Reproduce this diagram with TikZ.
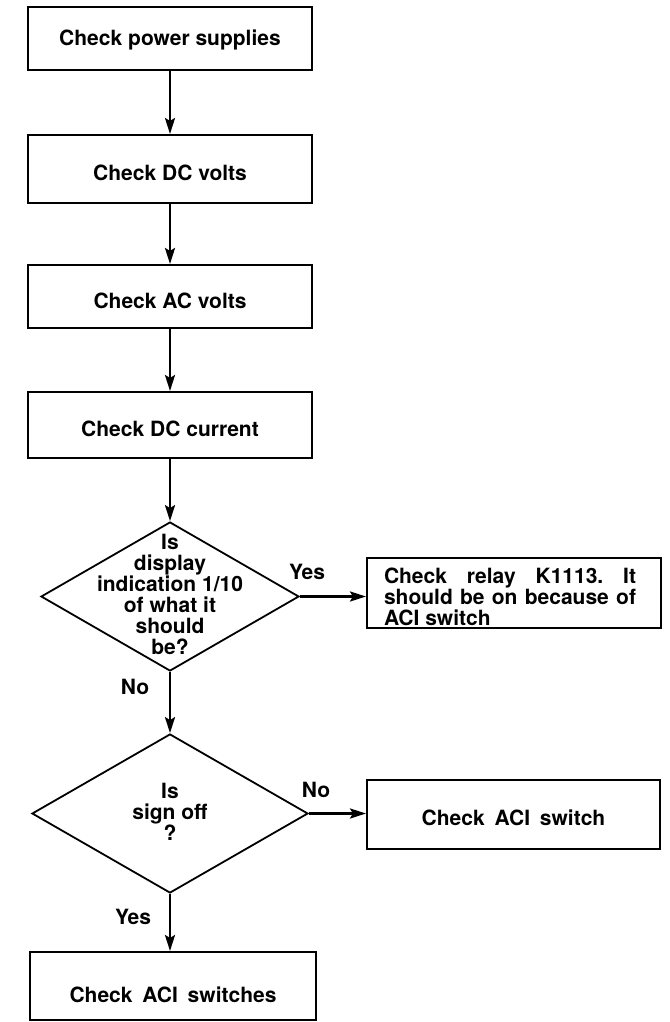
\documentclass[tikz,border=0pt]{standalone}
\usepackage{fontspec}
\setmainfont{TeX Gyre Heros}
\usetikzlibrary{shapes.geometric,arrows.meta}
\newcommand{\lowered}[2]{\raisebox{-#1}[0pt][0pt]{#2}}
\frenchspacing
\begin{document}
\begin{tikzpicture}[x=1pt,y=-1pt,
  every node/.style={font=\fontsize{21}{21}\selectfont\bfseries},
  box/.style={draw, line width=2pt, inner sep=0pt},
  dia/.style={draw, diamond, line width=1.8pt, inner sep=0pt},
  arr/.style={line width=2.6pt, -{Stealth[length=16pt,width=10pt,inset=3pt]}},
  lbl/.style={inner sep=0pt}]
\useasboundingbox (0,0) rectangle (669,1022);
\node[box, minimum width=284pt, minimum height=63pt] (b1) at (170,38.5) {\lowered{7.5pt}{Check power supplies}};
\node[box, minimum width=284pt, minimum height=68pt] (b2) at (170,169) {\lowered{11pt}{Check DC volts}};
\node[box, minimum width=284pt, minimum height=63pt] (b3) at (170,296.5) {\lowered{11.5pt}{Check AC volts}};
\node[box, minimum width=284pt, minimum height=66pt] (b4) at (170,425) {\lowered{11pt}{Check DC current}};
\node[dia, minimum width=258pt, minimum height=149pt] (d1) at (170,596.5) {};
\node[align=center, inner sep=0pt] (d1t) at (170,594) {Is\\display\\indication 1/10\\of what it\\should\\be?};
\node[box, minimum width=294pt, minimum height=70pt] (b5) at (514,593) {};
\node[text width=252pt, align=justify, inner sep=0pt] (b5t) at (510,597) {\frenchspacing Check relay K1113. It\linebreak should be on because of\linebreak ACI switch};
\node[dia, minimum width=276pt, minimum height=159pt] (d2) at (170,813.5) {};
\node[align=center, inner sep=0pt] (d2t) at (170,812) {Is\\sign off\\?};
\node[box, minimum width=293pt, minimum height=69pt] (b6) at (513.5,814.5) {\lowered{10.5pt}{Check\kern4pt{} ACI\kern4pt{} switch}};
\node[box, minimum width=286pt, minimum height=68pt] (b7) at (173,986) {\lowered{16pt}{Check\kern4pt{} ACI\kern4pt{} switches}};
\draw[arr] (b1) -- (b2);
\draw[arr] (b2) -- (b3);
\draw[arr] (b3) -- (b4);
\draw[arr] (b4) -- (d1);
\draw[arr] (d1.east) -- (d1.east -| b5.west);
\draw[arr] (d1.south) -- (d2.north);
\draw[arr] (d2.east) -- (d2.east -| b6.west);
\draw[arr] (d2.south) -- (d2.south |- b7.north);
\node[lbl] (yes1) at (307,572) {Yes};
\node[lbl] (no1) at (135,687) {No};
\node[lbl] (no2) at (316,790) {No};
\node[lbl] (yes2) at (133,917) {Yes};
\end{tikzpicture}
\end{document}
